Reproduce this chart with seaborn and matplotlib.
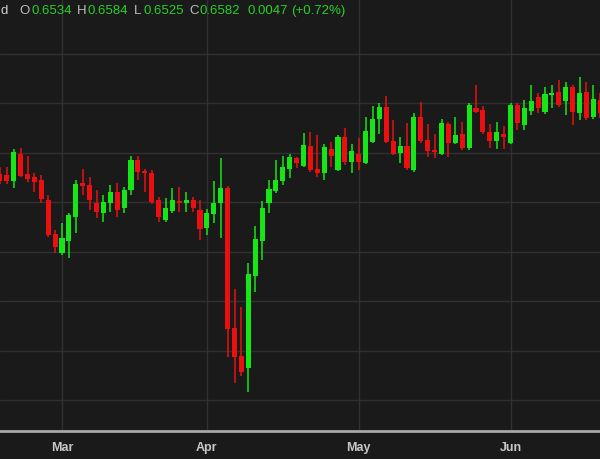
import numpy as np
import pandas as pd
import matplotlib
matplotlib.use('Agg')
import matplotlib.pyplot as plt
import seaborn as sns

# Daily candles (prices)
dates = pd.bdate_range('2025-02-18', periods=88)

opens = [0.6357, 0.6355, 0.6342, 0.6397, 0.6357, 0.6351, 0.6344, 0.6304, 0.6235, 0.6197,
         0.6221, 0.6270, 0.6338, 0.6334, 0.6298, 0.6278, 0.6298, 0.6320, 0.6288, 0.6324,
         0.6385, 0.6363, 0.6359, 0.6304, 0.6264, 0.6282, 0.6302, 0.6298, 0.6304, 0.6284,
         0.6247, 0.6276, 0.6298, 0.6328, 0.6045, 0.5989, 0.5965, 0.6151, 0.6221, 0.6298,
         0.6322, 0.6342, 0.6367, 0.6389, 0.6373, 0.6413, 0.6367, 0.6359, 0.6407, 0.6365,
         0.6431, 0.6381, 0.6397, 0.6379, 0.6421, 0.6468, 0.6492, 0.6423, 0.6399, 0.6413,
         0.6365, 0.6472, 0.6425, 0.6405, 0.6397, 0.6458, 0.6419, 0.6437, 0.6409, 0.6490,
         0.6486, 0.6441, 0.6423, 0.6437, 0.6419, 0.6496, 0.6456, 0.6484, 0.6512, 0.6482,
         0.6516, 0.6522, 0.6504, 0.6532, 0.6480, 0.6522, 0.6472, 0.6506]
highs = [0.6371, 0.6371, 0.6407, 0.6409, 0.6393, 0.6359, 0.6355, 0.6314, 0.6243, 0.6258,
         0.6278, 0.6344, 0.6367, 0.6351, 0.6324, 0.6314, 0.6334, 0.6338, 0.6330, 0.6393,
         0.6393, 0.6367, 0.6365, 0.6310, 0.6308, 0.6328, 0.6330, 0.6320, 0.6310, 0.6304,
         0.6286, 0.6342, 0.6389, 0.6332, 0.6124, 0.6088, 0.6177, 0.6252, 0.6302, 0.6344,
         0.6385, 0.6393, 0.6397, 0.6391, 0.6439, 0.6441, 0.6435, 0.6417, 0.6421, 0.6435,
         0.6449, 0.6417, 0.6429, 0.6472, 0.6494, 0.6500, 0.6514, 0.6466, 0.6431, 0.6460,
         0.6480, 0.6502, 0.6458, 0.6437, 0.6468, 0.6462, 0.6472, 0.6462, 0.6500, 0.6536,
         0.6494, 0.6458, 0.6462, 0.6454, 0.6500, 0.6500, 0.6506, 0.6536, 0.6520, 0.6532,
         0.6536, 0.6546, 0.6542, 0.6536, 0.6553, 0.6542, 0.6536, 0.6520]
lows = [0.6336, 0.6336, 0.6328, 0.6351, 0.6340, 0.6320, 0.6298, 0.6229, 0.6197, 0.6193,
        0.6187, 0.6237, 0.6314, 0.6284, 0.6268, 0.6260, 0.6280, 0.6270, 0.6278, 0.6314,
        0.6344, 0.6320, 0.6296, 0.6260, 0.6260, 0.6278, 0.6280, 0.6280, 0.6280, 0.6223,
        0.6233, 0.6258, 0.6227, 0.5987, 0.5934, 0.5948, 0.5916, 0.6118, 0.6183, 0.6278,
        0.6318, 0.6334, 0.6348, 0.6369, 0.6371, 0.6361, 0.6351, 0.6344, 0.6371, 0.6363,
        0.6375, 0.6359, 0.6365, 0.6377, 0.6419, 0.6437, 0.6419, 0.6395, 0.6379, 0.6365,
        0.6361, 0.6419, 0.6391, 0.6389, 0.6395, 0.6391, 0.6417, 0.6405, 0.6405, 0.6480,
        0.6437, 0.6409, 0.6407, 0.6407, 0.6417, 0.6445, 0.6445, 0.6476, 0.6480, 0.6478,
        0.6490, 0.6492, 0.6476, 0.6456, 0.6466, 0.6466, 0.6468, 0.6470]
closes = [0.6342, 0.6342, 0.6401, 0.6353, 0.6346, 0.6340, 0.6306, 0.6233, 0.6209, 0.6227,
          0.6274, 0.6336, 0.6332, 0.6304, 0.6280, 0.6300, 0.6320, 0.6284, 0.6324, 0.6385,
          0.6361, 0.6359, 0.6300, 0.6270, 0.6288, 0.6304, 0.6298, 0.6304, 0.6288, 0.6245,
          0.6278, 0.6298, 0.6328, 0.6043, 0.5987, 0.5957, 0.6155, 0.6225, 0.6288, 0.6326,
          0.6344, 0.6371, 0.6391, 0.6379, 0.6415, 0.6365, 0.6359, 0.6411, 0.6393, 0.6431,
          0.6381, 0.6403, 0.6381, 0.6443, 0.6468, 0.6492, 0.6421, 0.6397, 0.6413, 0.6369,
          0.6472, 0.6423, 0.6403, 0.6401, 0.6460, 0.6419, 0.6435, 0.6409, 0.6496, 0.6482,
          0.6441, 0.6423, 0.6441, 0.6431, 0.6496, 0.6460, 0.6490, 0.6504, 0.6490, 0.6518,
          0.6520, 0.6496, 0.6532, 0.6482, 0.6520, 0.6470, 0.6508, 0.6480]

month_labels = ['Mar', 'Apr', 'May', 'Jun']
price_grid = [0.59, 0.60, 0.61, 0.62, 0.63, 0.64, 0.65, 0.66]

header = [('d', '#d0d0d0'), ('O', '#bdbdbd'), ('0.6534', '#27d027'),
          ('H', '#bdbdbd'), ('0.6584', '#27d027'), ('L', '#bdbdbd'),
          ('0.6525', '#27d027'), ('C', '#bdbdbd'), ('0.6582', '#27d027'),
          ('0.0047', '#27d027'), ('(+0.72%)', '#27d027')]
header_x = [0.5, 19, 31, 77, 88, 134, 144, 189, 200, 247, 291]

BG = '#1a1a1a'
GREEN = '#16e616'
RED = '#ea1010'

sns.set_style('dark', {'axes.facecolor': BG, 'figure.facecolor': BG,
                       'grid.color': '#303030', 'axes.edgecolor': BG})
plt.rcParams['font.family'] = ['Liberation Sans', 'DejaVu Sans']

df = pd.DataFrame({'date': dates, 'open': opens, 'high': highs,
                   'low': lows, 'close': closes})
df['idx'] = np.arange(len(df))
df['up'] = df['close'] >= df['open']
df['bottom'] = df[['open', 'close']].min(axis=1)
df['height'] = (df['close'] - df['open']).abs().clip(lower=0.00018)

fig = plt.figure(figsize=(6.0, 4.59), dpi=100)
ax = fig.add_axes([0, 28 / 459, 1, 431 / 459])

colors = np.where(df['up'], GREEN, RED)
ax.vlines(df['idx'], df['low'], df['high'], colors=colors, linewidth=1.1, zorder=2)
ax.bar(df['idx'], df['height'], bottom=df['bottom'], width=0.74,
       color=colors, edgecolor='none', zorder=3)

# month ticks at first trading day of each month
month_pos = [int(np.argmax(df['date'].dt.month.values == m)) for m in [3, 4, 5, 6]]
ax.set_xticks(month_pos)
ax.set_xticklabels(month_labels)
ax.set_yticks(price_grid)
ax.set_yticklabels([])
ax.grid(True, color='#303030', linewidth=1)
ax.set_axisbelow(True)

ax.set_xlim(0.0145, 86.97)
ax.set_ylim(0.58374, 0.67081)

for side in ['top', 'left', 'right']:
    ax.spines[side].set_visible(False)
ax.spines['bottom'].set_color('#a8a8a8')
ax.spines['bottom'].set_linewidth(2)
ax.tick_params(axis='x', length=0, pad=8, labelsize=9, labelcolor='#c8c8c8')
ax.tick_params(axis='y', length=0)
for lbl in ax.get_xticklabels():
    lbl.set_fontweight('bold')

for (txt, col), px in zip(header, header_x):
    fig.text(px / 600, 1 - 11 / 459, txt, color=col, fontsize=9.5,
             ha='left', va='center')

fig.savefig('out.png', dpi=100, facecolor=BG)
